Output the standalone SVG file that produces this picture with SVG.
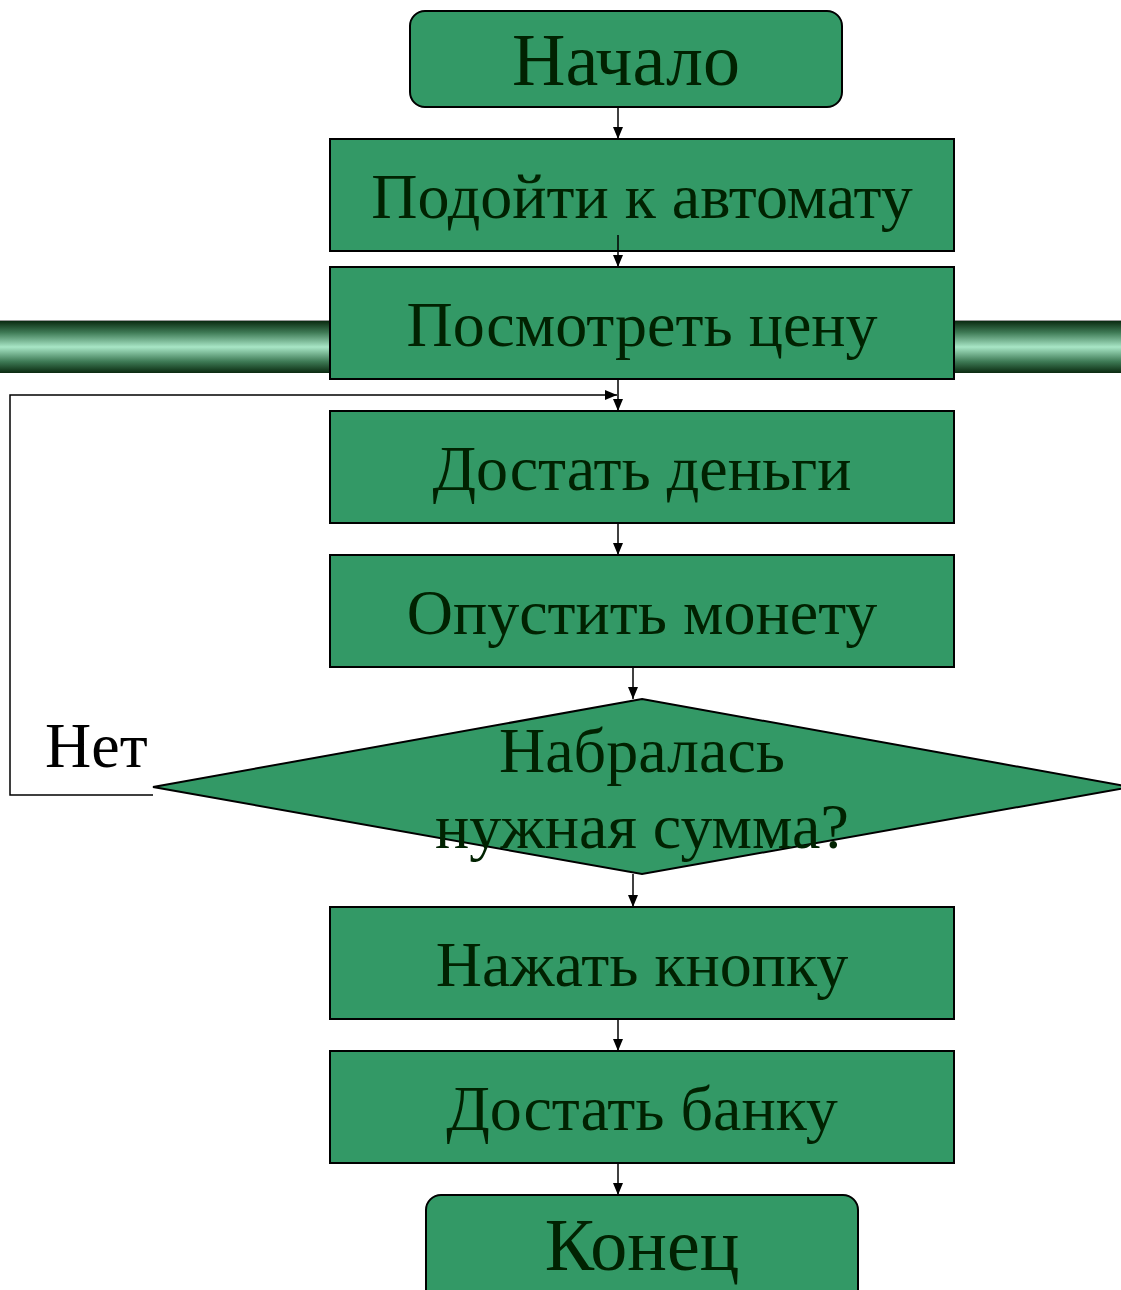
<svg xmlns="http://www.w3.org/2000/svg" width="1121" height="1290" viewBox="0 0 1121 1290">
  <style>
    .blk { fill: #339966; stroke: #000; stroke-width: 2; }
    .lbl { font-family: "Liberation Serif", "Times New Roman", serif; fill: #012201; text-anchor: middle; }
    .big { font-size: 74px; }
    .mid { font-size: 64px; }
    .dia { font-size: 64px; }
    .con { fill: none; stroke: #000; stroke-width: 1.5; }
  </style>
  <defs>
    <linearGradient id="tube" x1="0" y1="0" x2="0" y2="1">
      <stop offset="0" stop-color="#0a2a10"/>
      <stop offset="0.22" stop-color="#3e7a55"/>
      <stop offset="0.5" stop-color="#a8e6c6"/>
      <stop offset="0.78" stop-color="#3e7a55"/>
      <stop offset="1" stop-color="#0a2a10"/>
    </linearGradient>
    <marker id="arr" viewBox="0 0 12 10" refX="12" refY="5" markerWidth="12" markerHeight="10" markerUnits="userSpaceOnUse" orient="auto">
      <path d="M0,0 L12,5 L0,10 z" fill="#000"/>
    </marker>
  </defs>

  <!-- decorative tubes behind the third step -->
  <g id="tubes">
    <rect x="0" y="320" width="330" height="1" fill="#9a9a9a"/>
    <rect x="0" y="321" width="330" height="52" fill="url(#tube)"/>
    <rect x="954" y="320" width="167" height="1" fill="#9a9a9a"/>
    <rect x="954" y="321" width="167" height="52" fill="url(#tube)"/>
  </g>

  <g id="start">
    <rect class="blk" x="410" y="11" width="432" height="96" rx="15"/>
    <text class="lbl big" x="626" y="85">Начало</text>
  </g>

  <g id="step1">
    <rect class="blk" x="330" y="139" width="624" height="112"/>
    <text class="lbl mid" x="642" y="218">Подойти к автомату</text>
  </g>

  <g id="step2">
    <rect class="blk" x="330" y="267" width="624" height="112"/>
    <text class="lbl mid" x="642" y="346">Посмотреть цену</text>
  </g>

  <g id="step3">
    <rect class="blk" x="330" y="411" width="624" height="112"/>
    <text class="lbl mid" x="642" y="490">Достать деньги</text>
  </g>

  <g id="step4">
    <rect class="blk" x="330" y="555" width="624" height="112"/>
    <text class="lbl mid" x="642" y="634">Опустить монету</text>
  </g>

  <g id="decision">
    <polygon class="blk" points="642,699 1131,787 642,874 153,787"/>
    <text class="lbl dia" x="642" y="772">Набралась</text>
    <text class="lbl dia" x="642" y="848">нужная сумма?</text>
  </g>

  <g id="step5">
    <rect class="blk" x="330" y="907" width="624" height="112"/>
    <text class="lbl mid" x="642" y="986">Нажать кнопку</text>
  </g>

  <g id="step6">
    <rect class="blk" x="330" y="1051" width="624" height="112"/>
    <text class="lbl mid" x="642" y="1130">Достать банку</text>
  </g>

  <g id="end">
    <rect class="blk" x="426" y="1195" width="432" height="110" rx="15"/>
    <text class="lbl big" x="642" y="1270">Конец</text>
  </g>

  <g id="connectors">
    <line class="con" x1="618" y1="107" x2="618" y2="139" marker-end="url(#arr)"/>
    <line class="con" x1="618" y1="235" x2="618" y2="267" marker-end="url(#arr)"/>
    <line class="con" x1="618" y1="379" x2="618" y2="411" marker-end="url(#arr)"/>
    <line class="con" x1="618" y1="523" x2="618" y2="555" marker-end="url(#arr)"/>
    <line class="con" x1="633" y1="667" x2="633" y2="699" marker-end="url(#arr)"/>
    <line class="con" x1="633" y1="874" x2="633" y2="907" marker-end="url(#arr)"/>
    <line class="con" x1="618" y1="1019" x2="618" y2="1051" marker-end="url(#arr)"/>
    <line class="con" x1="618" y1="1163" x2="618" y2="1195" marker-end="url(#arr)"/>
    <!-- "no" branch looping back above step 3 -->
    <polyline class="con" points="153,795 10,795 10,395 617,395" marker-end="url(#arr)"/>
    <text x="45" y="767" font-family="Liberation Serif, serif" font-size="64" fill="#000">Нет</text>
  </g>
</svg>
